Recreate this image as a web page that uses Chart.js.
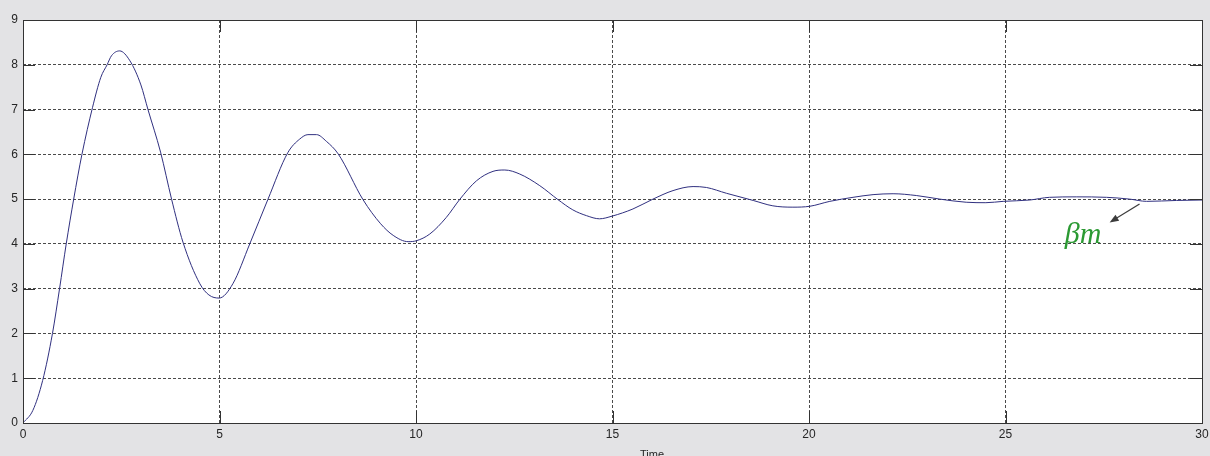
<!DOCTYPE html>
<html>
<head>
<meta charset="utf-8">
<script src="https://cdn.jsdelivr.net/npm/chart.js@4.4.1/dist/chart.umd.min.js"></script>
<style>
  html, body { margin: 0; padding: 0; background: #e3e3e5; }
  #plot { display: block; }
</style>
</head>
<body>
<canvas id="plot" width="1210" height="456"></canvas>
<script>
// Damped step response, sampled along the time axis
const timeValues = [
  0, 0.25, 0.5, 0.75, 0.93, 1.1, 1.29, 1.5, 1.77, 1.98, 2.14, 2.25, 2.46, 2.72,
  3.0, 3.18, 3.5, 3.78, 4.07, 4.5, 4.73, 4.99, 5.34, 5.77, 6.23, 6.74, 7.04,
  7.25, 7.47, 7.72, 8.02, 8.65, 9.1, 9.42, 9.8, 10.01, 10.35, 10.77, 11.11,
  11.54, 11.96, 12.26, 12.64, 13.15, 13.61, 13.99, 14.34, 14.67, 14.99, 15.52,
  16.03, 16.54, 17.05, 17.39, 17.9, 18.58, 19.08, 19.59, 20.02, 20.53, 21.12,
  21.63, 22.14, 22.73, 23.33, 24.0, 24.5, 24.94, 25.62, 26.12, 26.8, 27.57,
  28.16, 28.59, 29.35, 30
];
const responseValues = [
  0, 0.28, 0.95, 2.0, 3.0, 4.0, 5.0, 6.0, 7.05, 7.72, 8.0, 8.2, 8.31, 8.09,
  7.55, 7.0, 6.05, 5.0, 4.04, 3.11, 2.86, 2.79, 3.11, 4.0, 4.99, 6.04, 6.34,
  6.44, 6.44, 6.29, 6.01, 4.99, 4.45, 4.19, 4.05, 4.07, 4.22, 4.59, 4.99,
  5.41, 5.62, 5.65, 5.56, 5.3, 4.99, 4.76, 4.63, 4.56, 4.62, 4.78,
  5.0, 5.19, 5.28, 5.26, 5.13, 4.97, 4.85, 4.82, 4.84, 4.95, 5.04,
  5.1, 5.12, 5.08, 5.0, 4.93, 4.92, 4.95, 4.98, 5.04, 5.05, 5.04,
  5.0, 4.95, 4.97, 4.98
];
const xTicks = [0, 5, 10, 15, 20, 25, 30];
const yTicks = [0, 1, 2, 3, 4, 5, 6, 7, 8, 9];
const xLabel = 'Time';

// steady-state marker: label anchor, arrow tail and arrow tip (data units)
const noteText = 'βm';
const notePos = [26.51, 4.02];
const arrowFrom = [28.41, 4.89];
const arrowTo = [27.65, 4.48];

const points = timeValues.map((t, i) => ({ x: t, y: responseValues[i] }));

const axisColor = '#333333';
const tickLen = 12;

const framePlugin = {
  id: 'frame',
  beforeDraw(chart) {
    const { ctx, chartArea: a } = chart;
    ctx.save();
    ctx.fillStyle = '#e3e3e5';
    ctx.fillRect(0, 0, chart.width, chart.height);
    ctx.fillStyle = '#ffffff';
    ctx.fillRect(a.left, a.top, a.right - a.left, a.bottom - a.top);
    ctx.restore();
  },
  afterDraw(chart) {
    const { ctx, chartArea: a, scales } = chart;
    const px = v => Math.round(v) + 0.5;
    ctx.save();
    ctx.strokeStyle = axisColor;
    ctx.lineWidth = 1;

    // box
    ctx.strokeRect(px(a.left), px(a.top), Math.round(a.right - a.left), Math.round(a.bottom - a.top));

    // inward ticks on all four sides
    ctx.beginPath();
    xTicks.forEach(v => {
      const x = px(scales.x.getPixelForValue(v));
      ctx.moveTo(x, a.bottom); ctx.lineTo(x, a.bottom - tickLen);
      ctx.moveTo(x, a.top); ctx.lineTo(x, a.top + tickLen);
    });
    yTicks.forEach(v => {
      const y = px(scales.y.getPixelForValue(v));
      ctx.moveTo(a.left, y); ctx.lineTo(a.left + tickLen, y);
      ctx.moveTo(a.right, y); ctx.lineTo(a.right - tickLen, y);
    });
    ctx.stroke();

    // x axis label
    ctx.fillStyle = '#262626';
    ctx.font = '11px "Liberation Sans", Arial, sans-serif';
    ctx.textAlign = 'center';
    ctx.textBaseline = 'top';
    ctx.fillText(xLabel, 652, 449);

    // annotation arrow
    const x0 = scales.x.getPixelForValue(arrowFrom[0]);
    const y0 = scales.y.getPixelForValue(arrowFrom[1]);
    const x1 = scales.x.getPixelForValue(arrowTo[0]);
    const y1 = scales.y.getPixelForValue(arrowTo[1]);
    const ang = Math.atan2(y1 - y0, x1 - x0);
    ctx.strokeStyle = '#3c3c3c';
    ctx.fillStyle = '#3c3c3c';
    ctx.lineWidth = 1.3;
    ctx.beginPath();
    ctx.moveTo(x0, y0);
    ctx.lineTo(x1 - 5 * Math.cos(ang), y1 - 5 * Math.sin(ang));
    ctx.stroke();
    ctx.beginPath();
    ctx.moveTo(x1, y1);
    ctx.lineTo(x1 - 9 * Math.cos(ang) + 3.5 * Math.sin(ang), y1 - 9 * Math.sin(ang) - 3.5 * Math.cos(ang));
    ctx.lineTo(x1 - 9 * Math.cos(ang) - 3.5 * Math.sin(ang), y1 - 9 * Math.sin(ang) + 3.5 * Math.cos(ang));
    ctx.closePath();
    ctx.fill();

    // annotation text
    ctx.fillStyle = '#2b9a33';
    ctx.font = 'italic 30px "Liberation Serif", "DejaVu Serif", serif';
    ctx.textAlign = 'left';
    ctx.textBaseline = 'alphabetic';
    ctx.fillText(noteText, scales.x.getPixelForValue(notePos[0]), scales.y.getPixelForValue(notePos[1]));
    ctx.restore();
  }
};

const tickFont = { family: '"Liberation Sans", Arial, sans-serif', size: 12 };

new Chart(document.getElementById('plot'), {
  type: 'scatter',
  data: {
    datasets: [{
      data: points,
      showLine: true,
      borderColor: '#303080',
      borderWidth: 1,
      pointRadius: 0,
      cubicInterpolationMode: 'monotone',
      fill: false
    }]
  },
  options: {
    responsive: false,
    animation: false,
    devicePixelRatio: 1,
    layout: { padding: { top: 20, right: 8, left: 0, bottom: 0 } },
    plugins: {
      legend: { display: false },
      tooltip: { enabled: false }
    },
    scales: {
      x: {
        type: 'linear',
        min: 0,
        max: 30,
        afterBuildTicks: s => { s.ticks = xTicks.map(v => ({ value: v })); },
        afterFit: s => { s.height = 33; s.paddingLeft = 0; s.paddingRight = 0; },
        grid: { color: '#4a4a4a', lineWidth: 1, drawTicks: false },
        border: { display: false, dash: [3, 2] },
        ticks: { color: '#262626', font: tickFont, padding: 4, maxRotation: 0 }
      },
      y: {
        type: 'linear',
        min: 0,
        max: 9,
        afterBuildTicks: s => { s.ticks = yTicks.map(v => ({ value: v })); },
        afterFit: s => { s.width = 23; s.paddingTop = 0; s.paddingBottom = 0; },
        grid: { color: '#4a4a4a', lineWidth: 1, drawTicks: false },
        border: { display: false, dash: [3, 2] },
        ticks: { color: '#262626', font: tickFont, padding: 5 }
      }
    }
  },
  plugins: [framePlugin]
});
</script>
</body>
</html>
